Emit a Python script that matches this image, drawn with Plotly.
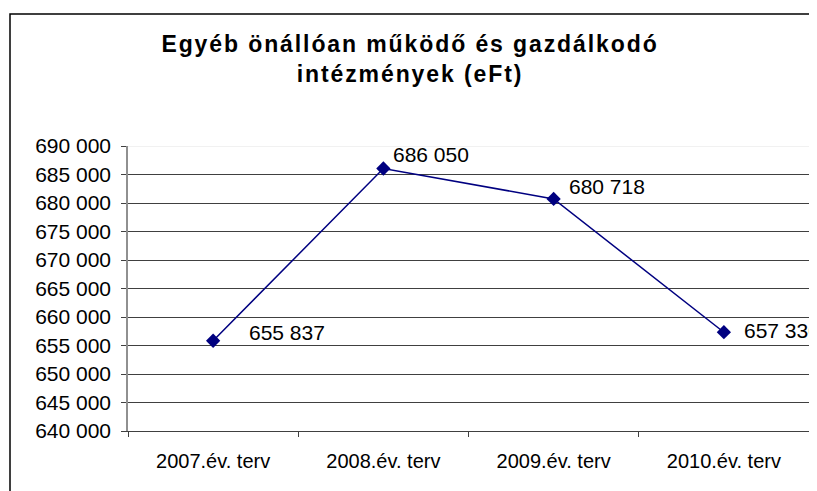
import plotly.graph_objects as go

categories = ["2007.év. terv", "2008.év. terv", "2009.év. terv", "2010.év. terv"]
values = [655837, 686050, 680718, 657330]
y_ticks = list(range(640000, 690001, 5000))
title_lines = ["Egyéb önállóan működő és gazdálkodó", "intézmények (eFt)"]

# label offsets in pixels (styling)
label_dx = [34, 8, 13, 18]
label_dy = [8, 14, 12, 2]

# page is shown with an 8px body margin, so the figure is sized to fit
W, H = 809, 483
L, R, T, B = 120, 8, 138, 60
pw, ph = W - L - R, H - T - B

def fmt(v):
    return f"{v:,}".replace(",", " ")

title_text = "<br>".join(f'<span style="letter-spacing:1.9px">{s}</span>' for s in title_lines)

fig = go.Figure()
fig.add_trace(go.Scatter(
    x=categories, y=values, mode="lines+markers",
    line=dict(color="#000080", width=1.5),
    marker=dict(symbol="diamond", size=11, color="#000080"),
    hoverinfo="skip", showlegend=False,
))

for c, v, dx, dy in zip(categories, values, label_dx, label_dy):
    fig.add_annotation(x=c, y=v, text=fmt(v), showarrow=False,
                       xanchor="left", yanchor="middle", xshift=dx, yshift=dy,
                       font=dict(family="Liberation Sans, Arial", size=21, color="black"))

# chart border
fig.add_shape(type="rect", xref="paper", yref="paper",
              x0=(2 - L) / pw, x1=(W + 5 - L) / pw,
              y0=-(B + 10) / ph, y1=(H - B - 6) / ph,
              line=dict(color="black", width=1.5), fillcolor="rgba(0,0,0,0)", layer="below")
# lighter top grid line
fig.add_shape(type="line", xref="paper", yref="y", x0=0, x1=1, y0=690000, y1=690000,
              line=dict(color="#e4e4e4", width=1), layer="above")

fig.update_layout(
    width=W, height=H,
    margin=dict(l=L, r=R, t=T, b=B),
    paper_bgcolor="white", plot_bgcolor="white",
    separators=". ",
    font=dict(family="Liberation Sans, Arial", size=20, color="black"),
    title=dict(text=title_text, x=(410 - 8) / W, xref="container", xanchor="center",
               y=1 - 44 / H, yref="container", yanchor="top",
               font=dict(family="Liberation Sans, Arial", size=23, color="black", weight="bold")),
    xaxis=dict(type="category", tickson="boundaries", ticks="outside", ticklen=5,
               tickcolor="#404040", showgrid=False, showline=True, linecolor="#404040",
               linewidth=1, range=[-0.5, 3.5], ticklabelstandoff=12,
               tickfont=dict(size=20)),
    yaxis=dict(range=[640000, 690000], tickvals=y_ticks, tickformat=",d",
               ticks="outside", ticklen=5, tickcolor="#404040",
               showgrid=True, gridcolor="#404040", gridwidth=1,
               showline=True, linecolor="#909090", linewidth=1.5,
               zeroline=False, ticklabelstandoff=6, tickfont=dict(size=21)),
)

fig.write_html("out.html")
